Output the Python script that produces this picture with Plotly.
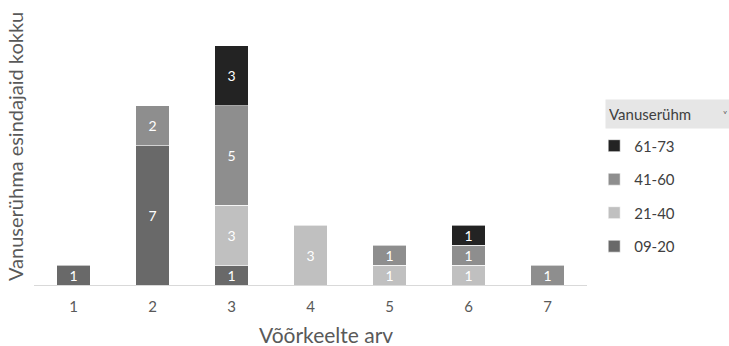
import plotly.graph_objects as go

categories = ["1", "2", "3", "4", "5", "6", "7"]
series_names = ["09-20", "21-40", "41-60", "61-73"]
v_09_20 = [1, 7, 1, None, None, None, None]
v_21_40 = [None, None, 3, 3, 1, 1, None]
v_41_60 = [None, 2, 5, None, 1, 1, 1]
v_61_73 = [None, None, 3, None, None, 1, None]
series_values = [v_09_20, v_21_40, v_41_60, v_61_73]
colors = ["#696969", "#c0c0c0", "#8e8e8e", "#232323"]

fig = go.Figure()
for i, (name, vals, col) in enumerate(zip(series_names, series_values, colors)):
    fig.add_trace(go.Bar(
        x=categories, y=vals, name=name, legendgroup=name,
        legendrank=len(series_names) - i,
        marker=dict(color=col, line=dict(color="white", width=0.6)),
        text=[str(v) if v else "" for v in vals],
        textposition="inside", insidetextanchor="middle",
        textangle=0, constraintext="none",
        textfont=dict(color="white", size=14, family="Lato"),
        width=0.42,
    ))

fig.update_layout(
    barmode="stack",
    width=729, height=346,
    margin=dict(l=34, r=142, t=30, b=61),
    paper_bgcolor="white", plot_bgcolor="white",
    font=dict(family="Lato", color="#595959"),
    showlegend=True,
    legend=dict(
        traceorder="grouped", tracegroupgap=11,
        x=1.013, xanchor="left", y=0.61, yanchor="top",
        font=dict(size=15, color="#404040"),
        itemwidth=30,
    ),
    xaxis=dict(
        range=[-0.5, 6.5], showline=True, linecolor="#d9d9d9", linewidth=1,
        ticks="", tickfont=dict(size=15, color="#595959"), ticklabelstandoff=8,
        showgrid=False, zeroline=False,
    ),
    yaxis=dict(
        range=[0, 12.8], showticklabels=False, ticks="", showgrid=False, zeroline=False,
    ),
    annotations=[
        dict(text="Vanuserühm", xref="paper", yref="paper",
             x=1.0325, y=0.67, xanchor="left", yanchor="middle",
             showarrow=False, font=dict(size=15, color="#404040"),
             bgcolor="#e6e6e6", width=118, height=22, align="left", borderpad=3),
        dict(text="˅", xref="paper", yref="paper",
             x=1.25, y=0.67, xanchor="center", yanchor="middle",
             showarrow=False, font=dict(size=9, color="#555555")),
        dict(text="Võõrkeelte arv", xref="paper", yref="paper",
             x=(326 - 34) / 553, y=-(334 - 285) / 255, xanchor="center", yanchor="middle",
             showarrow=False, font=dict(size=21, color="#595959")),
        dict(text="Vanuserühma esindajaid kokku", xref="paper", yref="paper",
             x=(15 - 34) / 553, y=(285 - 147) / 255, xanchor="center", yanchor="middle",
             textangle=-90, showarrow=False, font=dict(size=20, color="#595959")),
    ],
)

fig.write_html("out.html")
